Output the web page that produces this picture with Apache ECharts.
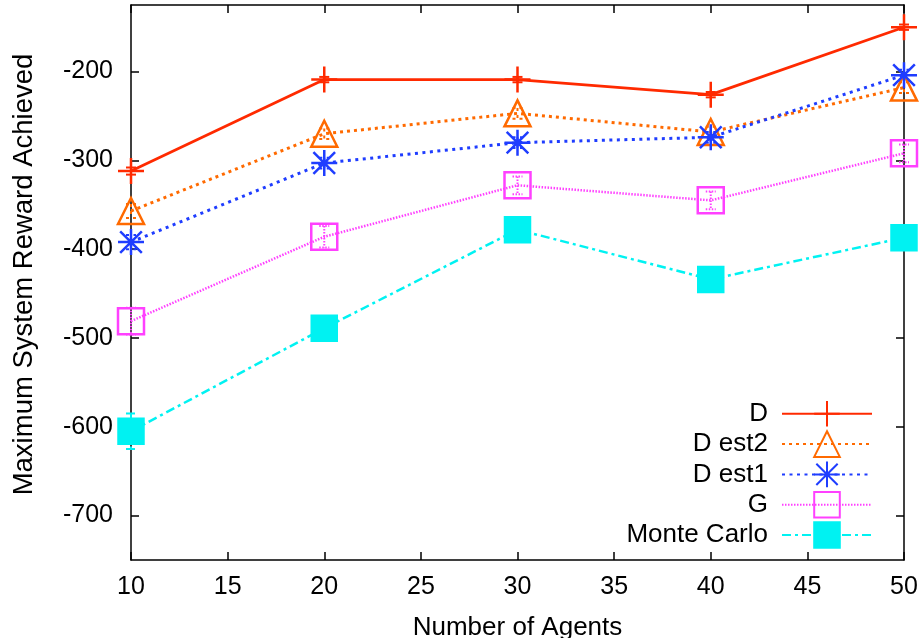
<!DOCTYPE html>
<html><head><meta charset="utf-8">
<script src="https://cdn.jsdelivr.net/npm/echarts@6/dist/echarts.min.js"></script>
<style>html,body{margin:0;padding:0;background:#fff}#c{width:924px;height:638px}</style>
</head><body><div id="c"></div>
<script>
// ---- data ----
const agents = [10, 20, 30, 40, 50];
const seriesNames = ['D', 'D est2', 'D est1', 'G', 'Monte Carlo'];
const dValues = [-312, -209, -209, -226, -150];
const dEst2Values = [-357, -270, -247, -268, -218];
const dEst1Values = [-392, -303, -280, -274, -204];
const gValues = [-481, -386, -328, -345, -292];
const monteCarloValues = [-605, -489, -378, -434, -387];
const dErrors = [4, 3, 3, 3, 3];
const dEst2Errors = [8, 6, 6, 6, 6];
const dEst1Errors = [8, 6, 6, 6, 6];
const gErrors = [15, 12, 10, 10, 10];
const monteCarloErrors = [20, 5, 5, 5, 5];
const xTicks = [10, 15, 20, 25, 30, 35, 40, 45, 50];
const yTicks = [-700, -600, -500, -400, -300, -200];

// ---- styles ----
const FONT = 'Liberation Sans';
const plusPath = 'path://M12,0L12,24M0,12L24,12';
const starPath = 'path://M12,0L12,24M0,12L24,12M2,2L22,22M22,2L2,22';
const styles = [
  {color: '#ff2a00', dash: 'solid', width: 2.8, symbol: plusPath, size: 26, fill: 'rgba(0,0,0,0)'},
  {color: '#ff6a00', dash: [3, 4], width: 3, symbol: 'triangle', size: 26, fill: 'rgba(0,0,0,0)'},
  {color: '#1f3dff', dash: [3, 4.5], width: 3, symbol: starPath, size: 26, fill: 'rgba(0,0,0,0)'},
  {color: '#ff40ff', dash: [1.5, 1.5], width: 2.5, symbol: 'rect', size: 26, fill: 'rgba(0,0,0,0)'},
  {color: '#00f2f2', dash: [9, 4, 3, 4], width: 2.5, symbol: 'rect', size: 25, fill: '#00f2f2'}
];
const valueSets = [dValues, dEst2Values, dEst1Values, gValues, monteCarloValues];
const errorSets = [dErrors, dEst2Errors, dEst1Errors, gErrors, monteCarloErrors];

function errRenderer(st) {
  return function (params, api) {
    const x = api.value(0), y = api.value(1), e = api.value(2);
    const top = api.coord([x, y + e]), bot = api.coord([x, y - e]);
    const cap = 5;
    const style = {stroke: st.color, lineWidth: 2, lineDash: st.dash === 'solid' ? null : st.dash, fill: null};
    return {type: 'group', children: [
      {type: 'line', shape: {x1: top[0], y1: top[1], x2: bot[0], y2: bot[1]}, style: style},
      {type: 'line', shape: {x1: top[0] - cap, y1: top[1], x2: top[0] + cap, y2: top[1]}, style: style},
      {type: 'line', shape: {x1: bot[0] - cap, y1: bot[1], x2: bot[0] + cap, y2: bot[1]}, style: style}
    ]};
  };
}

const series = [];
seriesNames.forEach(function (name, k) {
  const st = styles[k];
  series.push({
    name: name + ' err', type: 'custom', clip: false, z: 1,
    renderItem: errRenderer(st),
    encode: {x: 0, y: 1},
    data: agents.map(function (a, i) { return [a, valueSets[k][i], errorSets[k][i]]; })
  });
  series.push({
    name: name, type: 'line', clip: false, z: 2,
    data: agents.map(function (a, i) { return [a, valueSets[k][i]]; }),
    symbol: st.symbol, symbolSize: st.size, showAllSymbol: true,
    lineStyle: {color: st.color, width: st.width, type: st.dash},
    itemStyle: {color: st.fill, borderColor: st.color, borderWidth: 2.5},
    emphasis: {disabled: true},
    animation: false
  });
});

const axisLineStyle = {lineStyle: {color: '#000', width: 1.5}};
const chart = echarts.init(document.getElementById('c'), null, {renderer: 'canvas'});
chart.setOption({
  animation: false,
  backgroundColor: '#fff',
  grid: {left: 131, right: 20, top: 5, bottom: 78, containLabel: false, outerBoundsMode: 'none'},
  legend: {
    data: seriesNames, orient: 'vertical', right: 51, top: 400, padding: 0,
    align: 'right', itemWidth: 90, itemHeight: 32, itemGap: 2.7,
    textStyle: {fontFamily: FONT, fontSize: 26, color: '#000', padding: [0, 9, 0, 0]},
    selectedMode: false
  },
  xAxis: [{
    type: 'value', min: 10, max: 50, interval: 5,
    name: 'Number of Agents', nameLocation: 'middle', nameGap: 55,
    nameTextStyle: {fontFamily: FONT, fontSize: 26, color: '#000'},
    axisLine: axisLineStyle,
    axisTick: {inside: true, length: 8, lineStyle: {color: '#000', width: 1.5}},
    axisLabel: {fontFamily: FONT, fontSize: 25, color: '#000', margin: 15},
    splitLine: {show: false}
  }, {
    type: 'value', position: 'top', min: 10, max: 50, interval: 5,
    axisLine: axisLineStyle,
    axisTick: {inside: true, length: 8, lineStyle: {color: '#000', width: 1.5}},
    axisLabel: {show: false}, splitLine: {show: false}
  }],
  yAxis: [{
    type: 'value', min: -750, max: -125,
    name: 'Maximum System Reward Achieved', nameLocation: 'middle', nameGap: 93, nameRotate: 90,
    nameTextStyle: {fontFamily: FONT, fontSize: 27.5, color: '#000', padding: [0, 0, 0, 16]},
    axisLine: axisLineStyle,
    axisTick: {inside: true, length: 8, customValues: yTicks, lineStyle: {color: '#000', width: 1.5}},
    axisLabel: {fontFamily: FONT, fontSize: 25, color: '#000', margin: 18, customValues: yTicks},
    splitLine: {show: false}
  }, {
    type: 'value', position: 'right', min: -750, max: -125,
    axisLine: axisLineStyle,
    axisTick: {inside: true, length: 8, customValues: yTicks, lineStyle: {color: '#000', width: 1.5}},
    axisLabel: {show: false, customValues: yTicks}, splitLine: {show: false}
  }],
  series: series
});
</script></body></html>
